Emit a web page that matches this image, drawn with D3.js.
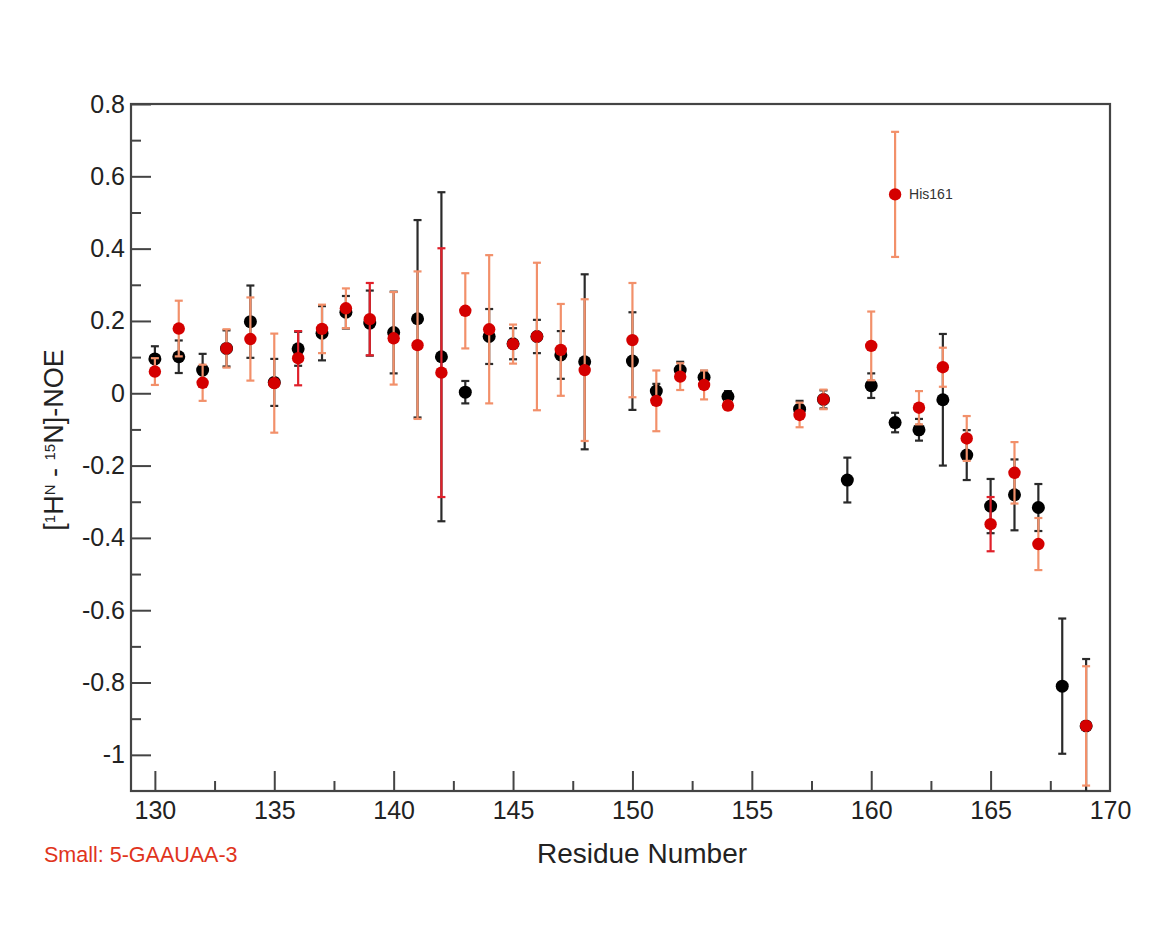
<!DOCTYPE html>
<html><head><meta charset="utf-8">
<script src="https://cdn.jsdelivr.net/npm/d3@7"></script>
<style>body{margin:0;background:#fff}svg{display:block}</style>
</head><body>
<svg id="c" width="1149" height="945"></svg>
<script>
// ---- data ----
const blackRes = [130,131,132,133,134,135,136,137,138,139,140,141,142,143,144,145,146,147,148,150,151,152,153,154,157,158,159,160,161,162,163,164,165,166,167,168,169];
const blackVals = [0.095,0.101,0.064,0.124,0.198,0.030,0.123,0.166,0.224,0.194,0.168,0.206,0.101,0.003,0.157,0.137,0.157,0.106,0.087,0.089,0.006,0.064,0.044,-0.009,-0.044,-0.017,-0.240,0.021,-0.081,-0.101,-0.018,-0.171,-0.312,-0.281,-0.316,-0.810,-0.920];
const blackErr = [0.035,0.045,0.045,0.050,0.100,0.065,0.047,0.075,0.045,0.090,0.113,0.273,0.455,0.031,0.076,0.043,0.046,0.066,0.242,0.135,0.020,0.023,0.018,0.015,0.023,0.025,0.062,0.034,0.027,0.030,0.182,0.069,0.075,0.098,0.065,0.187,0.185];

const redRes = [130,131,132,133,134,135,136,137,138,139,140,141,142,143,144,145,146,147,148,150,151,152,153,154,157,158,160,161,162,163,164,165,166,167,169];
const redVals = [0.060,0.179,0.029,0.124,0.150,0.028,0.097,0.178,0.235,0.205,0.152,0.133,0.057,0.228,0.177,0.136,0.157,0.120,0.064,0.147,-0.021,0.046,0.023,-0.034,-0.060,-0.017,0.131,0.550,-0.040,0.072,-0.125,-0.362,-0.220,-0.417,-0.920];
const redErr = [0.037,0.077,0.050,0.053,0.115,0.137,0.075,0.067,0.055,0.100,0.128,0.204,0.344,0.104,0.205,0.054,0.204,0.127,0.196,0.158,0.084,0.037,0.040,0.012,0.034,0.027,0.095,0.173,0.046,0.054,0.062,0.075,0.085,0.072,0.165];
const redDarkErrRes = [136,139,142,165];

const xTicks = [130,135,140,145,150,155,160,165,170];
const yTicks = [0.8,0.6,0.4,0.2,0,-0.2,-0.4,-0.6,-0.8,-1];
const yTickLabels = ["0.8","0.6","0.4","0.2","0","-0.2","-0.4","-0.6","-0.8","-1"];
const xLabel = "Residue Number";
const noteText = "Small: 5-GAAUAA-3";
const annot = {res:161, text:"His161"};

// ---- layout ----
const svg = d3.select("#c");
const L=131, R=1110, T=104, B=791;
const x = d3.scaleLinear().domain([129,170]).range([L,R]);
const y = d3.scaleLinear().domain([-1.1,0.8]).range([B,T]);
const font = "'Liberation Sans', Arial, Helvetica, sans-serif";
const axisCol = "#444";

svg.append("defs").append("clipPath").attr("id","clip")
  .append("rect").attr("x",L).attr("y",T).attr("width",R-L).attr("height",B-T);

const yMinor = d3.range(-10,8).map(k=>k/10+0.1-0.1).map(v=>+(v+0.0).toFixed(2)).filter(v=>Math.abs(Math.round(v*10))%2===1);
const xMinor = d3.range(132.5,170,5);

const gyMinor = svg.append("g").attr("transform",`translate(${L},0)`)
  .call(d3.axisLeft(y).tickValues(yMinor).tickSize(-10).tickFormat(""));
const gxMinor = svg.append("g").attr("transform",`translate(0,${B})`)
  .call(d3.axisBottom(x).tickValues(xMinor).tickSize(-10).tickFormat(""));
[gyMinor,gxMinor].forEach(g=>{g.select(".domain").remove(); g.selectAll("line").attr("stroke",axisCol).attr("stroke-width",2);});

const gy = svg.append("g").attr("transform",`translate(${L},0)`)
  .call(d3.axisLeft(y).tickValues(yTicks).tickSize(-20).tickPadding(6).tickFormat((d,i)=>yTickLabels[i]));
const gx = svg.append("g").attr("transform",`translate(0,${B})`)
  .call(d3.axisBottom(x).tickValues(xTicks).tickSize(-20).tickPadding(10));
[gy,gx].forEach(g=>{
  g.select(".domain").remove();
  g.selectAll("line").attr("stroke",axisCol).attr("stroke-width",2);
  g.selectAll("text").attr("font-family",font).attr("font-size",25).attr("fill","#222");
});
gx.selectAll(".tick").filter(d=>d===170).select("line").remove();

// frame
svg.append("rect").attr("x",L).attr("y",T).attr("width",R-L).attr("height",B-T)
  .attr("fill","none").attr("stroke",axisCol).attr("stroke-width",2.2);

// data
const plot = svg.append("g").attr("clip-path","url(#clip)");
function drawErr(res, vals, errs, colorFn){
  const g = plot.append("g");
  res.forEach((r,i)=>{
    const c = colorFn(r);
    const cx = x(r), y1 = y(vals[i]+errs[i]), y2 = y(vals[i]-errs[i]);
    g.append("line").attr("x1",cx).attr("x2",cx).attr("y1",y1).attr("y2",y2).attr("stroke",c).attr("stroke-width",2.2);
    [y1,y2].forEach(yy=>g.append("line").attr("x1",cx-4).attr("x2",cx+4).attr("y1",yy).attr("y2",yy).attr("stroke",c).attr("stroke-width",2.2));
  });
}
function drawDots(res, vals, color, r){
  plot.append("g").selectAll("circle").data(res).join("circle")
    .attr("cx",d=>x(d)).attr("cy",(d,i)=>y(vals[i])).attr("r",r).attr("fill",color);
}
drawErr(blackRes, blackVals, blackErr, ()=>"#2a2a2a");
drawDots(blackRes, blackVals, "#000", 6.5);
drawErr(redRes, redVals, redErr, r=>redDarkErrRes.includes(r)?"#e0202a":"#f2906a");
drawDots(redRes, redVals, "#d40000", 6.2);

// annotation
const ai = redRes.indexOf(annot.res);
svg.append("text").attr("x",x(annot.res)+14).attr("y",y(redVals[ai])+5)
  .attr("font-family",font).attr("font-size",14).attr("fill","#333").text(annot.text);

// axis labels
svg.append("text").attr("x",642).attr("y",863).attr("text-anchor","middle")
  .attr("font-family",font).attr("font-size",28).attr("fill","#222").text(xLabel);

const yl = svg.append("text").attr("transform",`translate(63,440) rotate(-90)`).attr("text-anchor","middle")
  .attr("font-family",font).attr("font-size",27).attr("fill","#222");
yl.append("tspan").text("[");
yl.append("tspan").attr("baseline-shift","super").attr("font-size",15).text("1");
yl.append("tspan").text("H");
yl.append("tspan").attr("baseline-shift","super").attr("font-size",15).text("N");
yl.append("tspan").text(" - ");
yl.append("tspan").attr("baseline-shift","super").attr("font-size",15).text("15");
yl.append("tspan").text("N]-NOE");

svg.append("text").attr("x",44).attr("y",862).attr("font-family",font).attr("font-size",21.5)
  .attr("fill","#e0341c").text(noteText);
</script>
</body></html>
